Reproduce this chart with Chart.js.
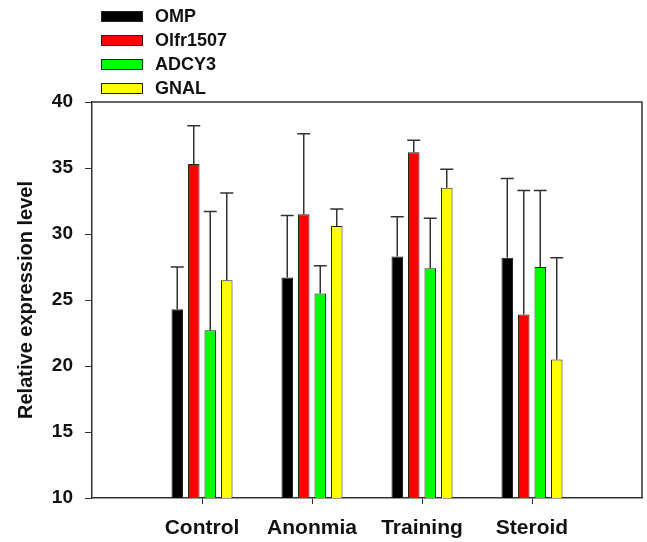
<!DOCTYPE html>
<html>
<head>
<meta charset="utf-8">
<script src="https://cdn.jsdelivr.net/npm/chart.js@4.4.1/dist/chart.umd.min.js"></script>
<style>
  body { margin: 0; background: #fff; }
  #wrap { position: relative; width: 647px; height: 542px; }
  #legend { position: absolute; left: 101px; top: 4px; font: bold 18px 'Liberation Sans', Arial, sans-serif; color: #111; }
  .row { display: flex; align-items: center; height: 24px; }
  .box { width: 40px; height: 9px; border: 1px solid #222; margin-right: 12px; }
</style>
</head>
<body>
<div id="wrap">
  <canvas id="chart"></canvas>
  <div id="legend"></div>
</div>
<script>
// categories (blank slots at both ends give the empty space left and right)
const groups = ['Control', 'Anonmia', 'Training', 'Steroid'];
const series = ['OMP', 'Olfr1507', 'ADCY3', 'GNAL'];
const colors = ['#000000', '#ff0000', '#00ff00', '#ffff00'];

// means per series (Control, Anonmia, Training, Steroid)
const ompMean   = [24.3, 26.7, 28.3, 28.2];
const olfrMean  = [35.3, 31.5, 36.2, 23.9];
const adcyMean  = [22.7, 25.5, 27.4, 27.5];
const gnalMean  = [26.5, 30.6, 33.5, 20.5];

// upper error (SD) per series
const ompErr  = [3.2, 4.7, 3.0, 6.0];
const olfrErr = [2.9, 6.1, 0.9, 9.4];
const adcyErr = [9.0, 2.1, 3.8, 5.8];
const gnalErr = [6.6, 1.3, 1.4, 7.7];

const yTicks = [10, 15, 20, 25, 30, 35, 40];

const means = [ompMean, olfrMean, adcyMean, gnalMean];
const errs = [ompErr, olfrErr, adcyErr, gnalErr];
const labels = [''].concat(groups, ['']);
const pad = arr => [null].concat(arr, [null]);

const FONT = "'Liberation Sans', Arial, sans-serif";

// error bars drawn upward from each bar top
const errorBars = {
  id: 'errorBars',
  afterDatasetsDraw(chart) {
    const ctx = chart.ctx;
    const y = chart.scales.y;
    ctx.save();
    ctx.strokeStyle = '#333';
    ctx.lineWidth = 1.5;
    chart.data.datasets.forEach((ds, i) => {
      const meta = chart.getDatasetMeta(i);
      meta.data.forEach((bar, j) => {
        const v = ds.data[j];
        if (v === null || v === undefined) return;
        const top = y.getPixelForValue(v + ds.err[j]);
        ctx.beginPath();
        ctx.moveTo(bar.x, bar.y);
        ctx.lineTo(bar.x, top);
        ctx.moveTo(bar.x - 6.5, top);
        ctx.lineTo(bar.x + 6.5, top);
        ctx.stroke();
      });
    });
    ctx.restore();
  }
};

// top and right frame lines
const frame = {
  id: 'frame',
  afterDraw(chart) {
    const a = chart.chartArea;
    const ctx = chart.ctx;
    ctx.save();
    ctx.strokeStyle = '#333';
    ctx.lineWidth = 1.5;
    ctx.beginPath();
    ctx.moveTo(a.left, a.top);
    ctx.lineTo(a.right, a.top);
    ctx.lineTo(a.right, a.bottom);
    ctx.stroke();
    ctx.restore();
  }
};

const datasets = series.map((name, i) => ({
  label: name,
  data: pad(means[i]),
  err: pad(errs[i]),
  backgroundColor: colors[i],
  borderColor: '#222',
  borderWidth: 1,
  categoryPercentage: 0.6,
  barPercentage: 0.7
}));

new Chart(document.getElementById('chart'), {
  type: 'bar',
  data: { labels: labels, datasets: datasets },
  plugins: [errorBars, frame],
  options: {
    responsive: true,
    maintainAspectRatio: false,
    animation: false,
    layout: { padding: { top: 102, right: 5, left: 0, bottom: 0 } },
    plugins: { legend: { display: false }, tooltip: { enabled: false } },
    scales: {
      x: {
        offset: false,
        afterFit: s => { s.height = 44; s.paddingLeft = 0; s.paddingRight = 0; },
        grid: {
          offset: false,
          drawOnChartArea: false,
          tickLength: 6,
          tickColor: c => (c.index === 0 || c.index === labels.length - 1) ? 'rgba(0,0,0,0)' : '#333'
        },
        border: { color: '#333', width: 1.5 },
        ticks: { color: '#111', padding: 12, maxRotation: 0, autoSkip: false, font: { family: FONT, size: 21, weight: 'bold' } }
      },
      y: {
        min: 10,
        max: 40,
        afterFit: s => { s.width = 92; },
        afterBuildTicks: s => { s.ticks = yTicks.map(v => ({ value: v })); },
        grid: { drawOnChartArea: false, tickLength: 7, color: '#333' },
        border: { color: '#333', width: 1.5 },
        ticks: { color: '#111', padding: 12, font: { family: FONT, size: 19, weight: 'bold' } },
        title: {
          display: true,
          text: 'Relative expression level',
          color: '#111',
          padding: { top: 14, bottom: 0 },
          font: { family: FONT, size: 20, weight: 'bold' }
        }
      }
    }
  }
});

// legend list in the top left
const legend = document.getElementById('legend');
series.forEach((name, i) => {
  const row = document.createElement('div');
  row.className = 'row';
  row.innerHTML = '<div class="box" style="background:' + colors[i] + '"></div><span>' + name + '</span>';
  legend.appendChild(row);
});
</script>
</body>
</html>
